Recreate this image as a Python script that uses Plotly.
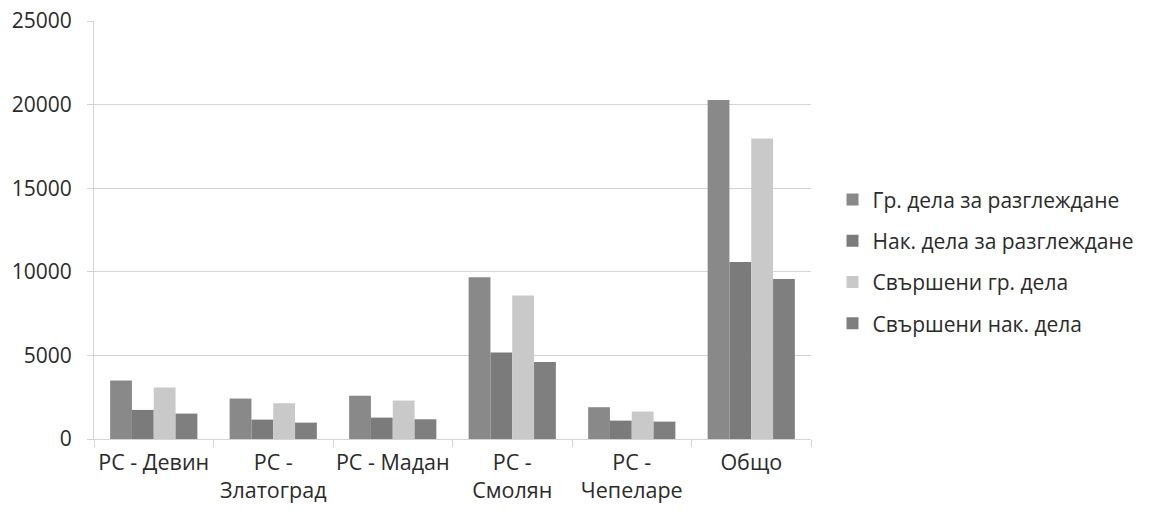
import plotly.graph_objects as go

# Court caseload by regional court (РС) and in total
categories = ["РС - Девин", "РС -<br>Златоград", "РС - Мадан",
              "РС -<br>Смолян", "РС -<br>Чепеларе", "Общо"]

series_names = ["Гр. дела за разглеждане", "Нак. дела за разглеждане",
                "Свършени гр. дела", "Свършени нак. дела"]

civil_pending = [3500, 2420, 2580, 9670, 1900, 20280]
criminal_pending = [1740, 1160, 1280, 5170, 1100, 10590]
civil_done = [3080, 2140, 2300, 8590, 1640, 17970]
criminal_done = [1520, 980, 1180, 4600, 1040, 9570]

series_values = [civil_pending, criminal_pending, civil_done, criminal_done]
colors = ["#898989", "#7b7b7b", "#c9c9c9", "#7f7f7f"]

y_ticks = [0, 5000, 10000, 15000, 20000, 25000]

font_family = "Open Sans, Noto Sans, sans-serif"
text_color = "#2b2b2b"
grid_color = "#d4d4d4"

fig = go.Figure()
for i, (name, vals, col) in enumerate(zip(series_names, series_values, colors)):
    fig.add_trace(go.Bar(
        x=categories, y=vals, name=name,
        marker=dict(color=col, line=dict(width=0)),
        legendgroup=f"g{i}",
    ))

fig.update_layout(
    width=1153, height=517,
    margin=dict(l=94, r=342, t=21, b=78, autoexpand=False),
    paper_bgcolor="white", plot_bgcolor="white",
    barmode="group", bargap=0.27, bargroupgap=0,
    font=dict(family=font_family, size=21, color=text_color),
    showlegend=True,
    legend=dict(
        x=1.030, xanchor="left", y=0.424, yanchor="middle",
        font=dict(size=21, color=text_color),
        tracegroupgap=11, itemwidth=30,
        bgcolor="rgba(0,0,0,0)",
    ),
)

fig.update_xaxes(
    type="category",
    automargin=False, tickangle=0,
    showline=True, linecolor=grid_color, linewidth=1,
    ticks="outside", tickson="boundaries", ticklen=7, tickcolor=grid_color,
    showgrid=False,
    ticklabelstandoff=4,
    tickfont=dict(size=21.5, color=text_color),
)

fig.update_yaxes(
    range=[0, 25000], tickvals=y_ticks,
    automargin=False,
    tickformat="d",
    showgrid=True, gridcolor=grid_color, gridwidth=1,
    showline=True, linecolor=grid_color, linewidth=1,
    ticks="outside", ticklen=6, tickcolor=grid_color,
    ticklabelstandoff=11,
    zeroline=False,
    tickfont=dict(size=21, color=text_color),
)

fig.write_html("out.html")
